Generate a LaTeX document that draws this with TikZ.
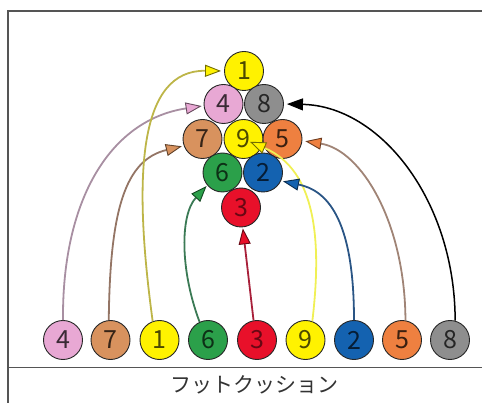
\documentclass[tikz,border=0pt]{standalone}
\usepackage{fontspec}
\usetikzlibrary{arrows.meta,calc}
\newfontfamily\jpfont{Noto Sans CJK JP}
\definecolor{cyel}{HTML}{FFF200}
\definecolor{cpink}{HTML}{E8A8D4}
\definecolor{cgray}{HTML}{8E8E8E}
\definecolor{ctan}{HTML}{D8925E}
\definecolor{corange}{HTML}{EE8040}
\definecolor{cgreen}{HTML}{2BA04A}
\definecolor{cblue}{HTML}{1462B0}
\definecolor{cred}{HTML}{E8102A}
\definecolor{lpink}{HTML}{A88FA2}
\definecolor{ltan}{HTML}{947565}
\definecolor{lyel}{HTML}{BDB548}
\definecolor{lgreen}{HTML}{3B7A55}
\definecolor{lred}{HTML}{A8203A}
\definecolor{lyel2}{HTML}{F0F055}
\definecolor{lblue}{HTML}{2A5585}
\definecolor{lorange}{HTML}{A08476}
\definecolor{frame}{HTML}{555555}
\begin{document}
\begin{tikzpicture}[x=1pt,y=-1pt,
  ball/.style={circle,draw=black!85,line width=0.9pt,minimum size=39pt,inner sep=0pt,
    font=\jpfont\fontsize{25}{25}\selectfont},
  conn/.style={line width=1.8pt},
  headfill/.style={-{Triangle[length=16pt,width=12pt,line width=0.9pt,fill=#1,color=#1!45!black]}}]
\useasboundingbox (0,0) rectangle (482,403);
% frame
\draw[frame,line width=1.2pt] (8,403) -- (8,11) -- (482,11);
\draw[frame,line width=0.8pt] (8,367) -- (482,367);
\node[font=\jpfont\fontsize{21}{21}\selectfont,text=black!80] (cushion) at (254,385) {フットクッション};
% rack
\node[ball,fill=cyel,text=cyel!30!black] (r1) at (244,71) {1};
\node[ball,fill=cpink,text=cpink!25!black] (r4) at (223.5,104) {4};
\node[ball,fill=cgray,text=black!85] (r8) at (264,104) {8};
\node[ball,fill=ctan,text=ctan!25!black] (r7) at (202.5,139) {7};
\node[ball,fill=cyel,text=cyel!30!black] (r9) at (243.5,139) {9};
\node[ball,fill=corange,text=corange!25!black] (r5) at (282.5,139) {5};
\node[ball,fill=cgreen,text=cgreen!30!black] (r6) at (222.5,172.5) {6};
\node[ball,fill=cblue,text=cblue!30!black] (r2) at (263,172.5) {2};
\node[ball,fill=cred,text=cred!45!black] (r3) at (241,207.5) {3};
% bottom row
\node[ball,fill=cpink,text=cpink!25!black] (b4) at (63,340) {4};
\node[ball,fill=ctan,text=ctan!25!black] (b7) at (110.5,340) {7};
\node[ball,fill=cyel,text=cyel!30!black] (b1) at (159.5,340) {1};
\node[ball,fill=cgreen,text=cgreen!30!black] (b6) at (208,340) {6};
\node[ball,fill=cred,text=cred!45!black] (b3) at (257,340) {3};
\node[ball,fill=cyel,text=cyel!30!black] (b9) at (305.5,340) {9};
\node[ball,fill=cblue,text=cblue!30!black] (b2) at (354,340) {2};
\node[ball,fill=corange,text=corange!25!black] (b5) at (402,340) {5};
\node[ball,fill=cgray,text=black!85] (b8) at (450,340) {8};
% connectors
\draw[conn,lpink,headfill=cpink,shorten >=2pt] (b4.north) .. controls (62,200) and (110,120) .. (r4.185);
\draw[conn,ltan,headfill=ctan,shorten >=2pt] (b7.95) .. controls (110,210) and (125,160) .. (r7.200);
\draw[conn,lyel,headfill=cyel,shorten >=3pt] (b1.110) .. controls (132,170) and (140,70) .. (r1.180);
\draw[conn,lgreen,headfill=cgreen,shorten >=1pt] (b6.115) .. controls (180,270) and (180,215) .. (r6.220);
\draw[conn,lred,headfill=cred,shorten >=1pt] (b3.100) -- (r3.275);
\draw[conn,lyel2,headfill=cyel,shorten >=7pt] (b9.70) .. controls (322,240) and (316,170) .. (r9.center);
\draw[conn,lblue,headfill=cblue,shorten >=2pt] (b2.north) .. controls (354,215) and (325,190) .. (r2.-25);
\draw[conn,lorange,headfill=corange,shorten >=3pt] (b5.80) .. controls (405,222) and (361,150) .. (r5.-5);
\draw[conn,black,line width=1.5pt,headfill=black,shorten >=3pt] (b8.75) .. controls (455,200) and (380,106) .. (r8.0);
\end{tikzpicture}
\end{document}
